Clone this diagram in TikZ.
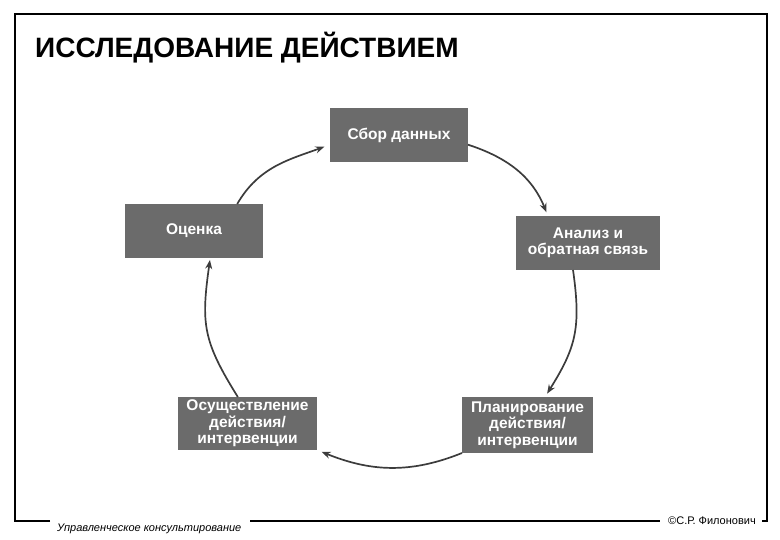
\documentclass[tikz,border=0pt]{standalone}
\usepackage{fontspec}
\setmainfont{Liberation Sans}
\usetikzlibrary{arrows.meta}
\definecolor{boxgray}{HTML}{6B6B6B}
\definecolor{arrowgray}{HTML}{3C3C3C}
\tikzset{
  box/.style={fill=boxgray, text=white, inner sep=0pt, outer sep=0pt, align=center,
    font=\bfseries\fontsize{15.5}{16.5}\selectfont},
  conn/.style={draw=arrowgray, line width=1.7pt, -{Stealth[length=9pt,width=7pt]}},
  frameline/.style={draw=black, line width=2pt}
}
\begin{document}
\begin{tikzpicture}[x=1pt,y=1pt]
\useasboundingbox (0,0) rectangle (780,540);
% frame
\draw[frameline] (50,19) -- (15,19) -- (15,526) -- (767,526) -- (767,19) -- (762,19);
\draw[frameline] (250,19) -- (660,19);
% title
\node[anchor=base west, inner sep=0pt, font=\bfseries\fontsize{28}{30}\selectfont] (title) at (35,482.5) {ИССЛЕДОВАНИЕ ДЕЙСТВИЕМ};
% boxes
\node[box, minimum width=138pt, minimum height=54pt] (sbor) at (399,405) {Сбор данных};
\node[box, minimum width=138pt, minimum height=54pt] (ocenka) at (194,309) {Оценка};
\node[box, minimum width=144pt, minimum height=54pt] (analiz) at (588,297) {Анализ и\\обратная связь};
\node[box, minimum width=139pt, minimum height=53pt] (osush) at (247.5,116.5) {Осуществление\\действия/\\интервенции};
\node[box, minimum width=131pt, minimum height=56pt] (plan) at (527.5,115) {Планирование\\действия/\\интервенции};
% connectors
\draw[conn, shorten >=6pt] (ocenka.32) to[out=60,in=200] (sbor.188);
\draw[conn, shorten >=4pt] (sbor.-8) to[out=-18,in=112] (analiz.146);
\draw[conn, shorten >=4pt] (analiz.241) to[out=-82,in=58,looseness=1.15] (plan.58);
\draw[conn, shorten >=5pt] (plan.south west) to[out=202,in=-22] (osush.south east);
\draw[conn, shorten >=2pt] (osush.110) to[out=122,in=-98,looseness=1.2] (ocenka.-59);
% footer
\node[anchor=base west, inner sep=0pt, font=\itshape\fontsize{11}{12}\selectfont] (footl) at (57,8) {Управленческое консультирование};
\node[anchor=base west, inner sep=0pt, font=\fontsize{11}{12}\selectfont] (footr) at (668,15) {©С.Р. Филонович};
\end{tikzpicture}
\end{document}
